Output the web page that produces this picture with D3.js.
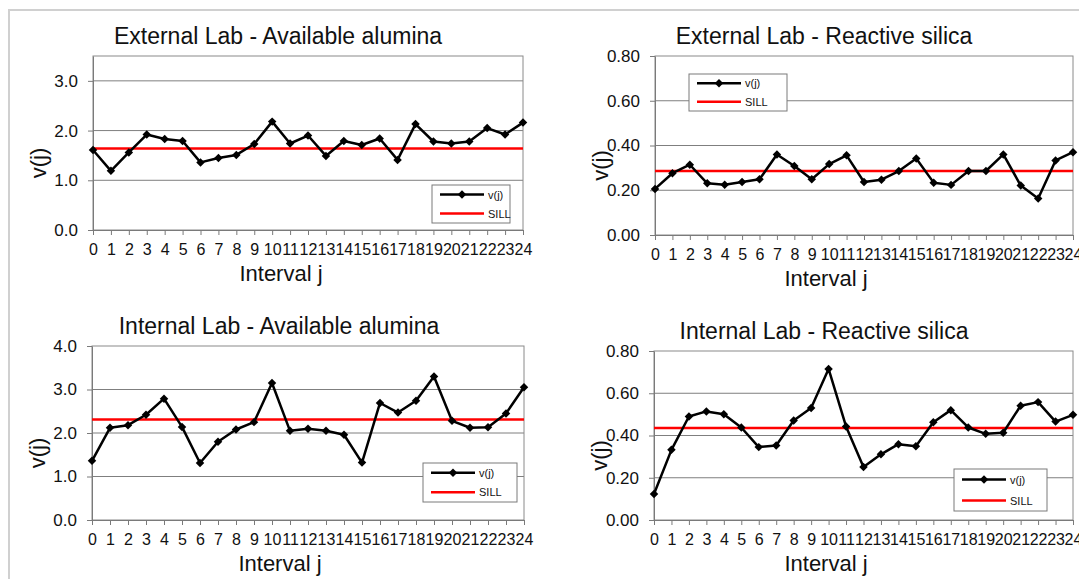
<!DOCTYPE html>
<html>
<head>
<meta charset="utf-8">
<script src="https://cdn.jsdelivr.net/npm/d3@7"></script>
<style>
  body { margin: 0; background: #fff; }
  svg { display: block; font-family: "Liberation Sans", Arial, sans-serif; }
</style>
</head>
<body>
<div id="chart"></div>
<script>
// interval index j shared by all four variograms
const intervals = [0, 1, 2, 3, 4, 5, 6, 7, 8, 9, 10, 11, 12, 13, 14, 15, 16, 17, 18, 19, 20, 21, 22, 23, 24]

const extAlumina = [1.61, 1.19, 1.56, 1.92, 1.83, 1.79, 1.36, 1.45, 1.51, 1.73, 2.18, 1.74, 1.90,
    1.49, 1.79, 1.71, 1.84, 1.41, 2.13, 1.78, 1.74, 1.78, 2.05, 1.92, 2.16]
const extAluminaSill = 1.64

const extSilica = [0.206, 0.276, 0.314, 0.231, 0.225, 0.237, 0.249, 0.360, 0.308, 0.249, 0.317, 0.356, 0.237,
    0.247, 0.286, 0.342, 0.234, 0.224, 0.286, 0.286, 0.360, 0.221, 0.163, 0.333, 0.370]
const extSilicaSill = 0.286

const intAlumina = [1.36, 2.12, 2.18, 2.42, 2.79, 2.14, 1.31, 1.80, 2.08, 2.25, 3.15, 2.05, 2.10,
    2.05, 1.96, 1.32, 2.69, 2.47, 2.74, 3.30, 2.28, 2.12, 2.13, 2.45, 3.05]
const intAluminaSill = 2.31

const intSilica = [0.123, 0.332, 0.490, 0.514, 0.501, 0.438, 0.345, 0.353, 0.471, 0.530, 0.715, 0.443, 0.251,
    0.311, 0.359, 0.349, 0.463, 0.520, 0.438, 0.408, 0.413, 0.541, 0.558, 0.466, 0.498]
const intSilicaSill = 0.436

const extAluminaTicks = [0, 1, 2, 3]
const intAluminaTicks = [0, 1, 2, 3, 4]
const silicaTicks = [0, 0.2, 0.4, 0.6, 0.8]

const legendLabels = ["v(j)", "SILL"]

// layout of each panel (plot box, title / axis title centres, legend box)
const panels = [
    { title: "External Lab - Available alumina", values: extAlumina, sill: extAluminaSill,
      ticks: extAluminaTicks, max: 3.5, fmt: ".1f",
      box: { l: 93, r: 523, t: 56, b: 230 }, titleX: 278, labelX: 281,
      legend: { x: 432, y: 185, w: 78, h: 38 } },
    { title: "External Lab - Reactive silica", values: extSilica, sill: extSilicaSill,
      ticks: silicaTicks, max: 0.8, fmt: ".2f",
      box: { l: 655, r: 1073, t: 56, b: 235 }, titleX: 824, labelX: 826,
      legend: { x: 689, y: 74, w: 98, h: 37 } },
    { title: "Internal Lab - Available alumina", values: intAlumina, sill: intAluminaSill,
      ticks: intAluminaTicks, max: 4, fmt: ".1f",
      box: { l: 92, r: 524, t: 346, b: 520 }, titleX: 279, labelX: 280,
      legend: { x: 423, y: 463, w: 94, h: 39 } },
    { title: "Internal Lab - Reactive silica", values: intSilica, sill: intSilicaSill,
      ticks: silicaTicks, max: 0.8, fmt: ".2f",
      box: { l: 654, r: 1073, t: 351, b: 520 }, titleX: 824, labelX: 826,
      legend: { x: 954, y: 469, w: 93, h: 42 } }
]

const svg = d3.select("#chart")
    .append("svg")
    .attr("width", 1079)
    .attr("height", 579)

// light frame of the original sheet
svg.append("line").attr("x1", 8).attr("x2", 1079).attr("y1", 10).attr("y2", 10)
    .attr("stroke", "#d0d0d0").attr("stroke-width", 2)
svg.append("line").attr("x1", 9).attr("x2", 9).attr("y1", 10).attr("y2", 579)
    .attr("stroke", "#d0d0d0").attr("stroke-width", 2)

const diamond = d3.symbol(d3.symbolSquare, 36)

panels.forEach((p) => {
    const b = p.box
    const g = svg.append("g")

    const x = d3.scalePoint().domain(intervals).range([b.l, b.r])
    const y = d3.scaleLinear().domain([0, p.max]).range([b.b, b.t])

    // gridlines
    g.selectAll(".grid")
        .data(p.ticks.filter((d) => d > 0 && d < p.max))
        .enter()
        .append("line")
        .attr("x1", b.l).attr("x2", b.r)
        .attr("y1", (d) => y(d)).attr("y2", (d) => y(d))
        .attr("stroke", "#7f7f7f").attr("stroke-width", 1)

    g.append("rect")
        .attr("x", b.l).attr("y", b.t)
        .attr("width", b.r - b.l).attr("height", b.b - b.t)
        .attr("fill", "none").attr("stroke", "#8a8a8a").attr("stroke-width", 1)

    const xAxis = g.append("g")
        .attr("transform", `translate(0,${b.b})`)
        .call(d3.axisBottom(x).tickSize(5).tickPadding(9).tickSizeOuter(0))
    const yAxis = g.append("g")
        .attr("transform", `translate(${b.l},0)`)
        .call(d3.axisLeft(y).tickValues(p.ticks).tickFormat(d3.format(p.fmt))
            .tickSize(5).tickPadding(10).tickSizeOuter(0))

    xAxis.selectAll("path, line").attr("stroke", "#7a7a7a")
    yAxis.selectAll("path, line").attr("stroke", "#7a7a7a")
    xAxis.selectAll("text").attr("font-size", 16).attr("fill", "#111")
        .attr("font-family", "Liberation Sans, Arial, sans-serif")
    yAxis.selectAll("text").attr("font-size", 17).attr("fill", "#111")
        .attr("font-family", "Liberation Sans, Arial, sans-serif")

    // sill
    g.append("line")
        .attr("x1", b.l).attr("x2", b.r)
        .attr("y1", y(p.sill)).attr("y2", y(p.sill))
        .attr("stroke", "#ff0000").attr("stroke-width", 2.5)

    // v(j) series
    g.append("path")
        .datum(p.values)
        .attr("fill", "none")
        .attr("stroke", "#000")
        .attr("stroke-width", 2.5)
        .attr("stroke-linejoin", "round")
        .attr("d", d3.line().x((d, i) => x(intervals[i])).y((d) => y(d)))

    g.selectAll(".pt")
        .data(p.values)
        .enter()
        .append("path")
        .attr("d", diamond)
        .attr("transform", (d, i) => `translate(${x(intervals[i])},${y(d)}) rotate(45)`)
        .attr("fill", "#000")

    // titles
    g.append("text")
        .attr("x", p.titleX)
        .attr("y", b.t - 12)
        .attr("text-anchor", "middle")
        .attr("font-size", 23)
        .attr("fill", "#111")
        .text(p.title)

    g.append("text")
        .attr("x", p.labelX)
        .attr("y", b.b + 51)
        .attr("text-anchor", "middle")
        .attr("font-size", 22)
        .attr("fill", "#111")
        .text("Interval j")

    g.append("text")
        .attr("transform", `translate(${b.l - 47},${(b.t + b.b) / 2 + 20}) rotate(-90)`)
        .attr("text-anchor", "middle")
        .attr("font-size", 22)
        .attr("fill", "#111")
        .text("v(j)")

    // legend
    const lg = g.append("g").attr("transform", `translate(${p.legend.x},${p.legend.y})`)
    lg.append("rect")
        .attr("width", p.legend.w).attr("height", p.legend.h)
        .attr("fill", "#fff").attr("stroke", "#7a7a7a").attr("stroke-width", 1)
    const rowY = [p.legend.h * 0.25, p.legend.h * 0.75]
    legendLabels.forEach((label, i) => {
        lg.append("line")
            .attr("x1", 8).attr("x2", 52)
            .attr("y1", rowY[i]).attr("y2", rowY[i])
            .attr("stroke", i == 0 ? "#000" : "#ff0000")
            .attr("stroke-width", 2.5)
        if (i == 0) {
            lg.append("path").attr("d", diamond)
                .attr("transform", `translate(30,${rowY[i]}) rotate(45)`)
                .attr("fill", "#000")
        }
        lg.append("text")
            .attr("x", 56).attr("y", rowY[i] + 4)
            .attr("font-size", 11)
            .attr("fill", "#111")
            .text(label)
    })
})
</script>
</body>
</html>
